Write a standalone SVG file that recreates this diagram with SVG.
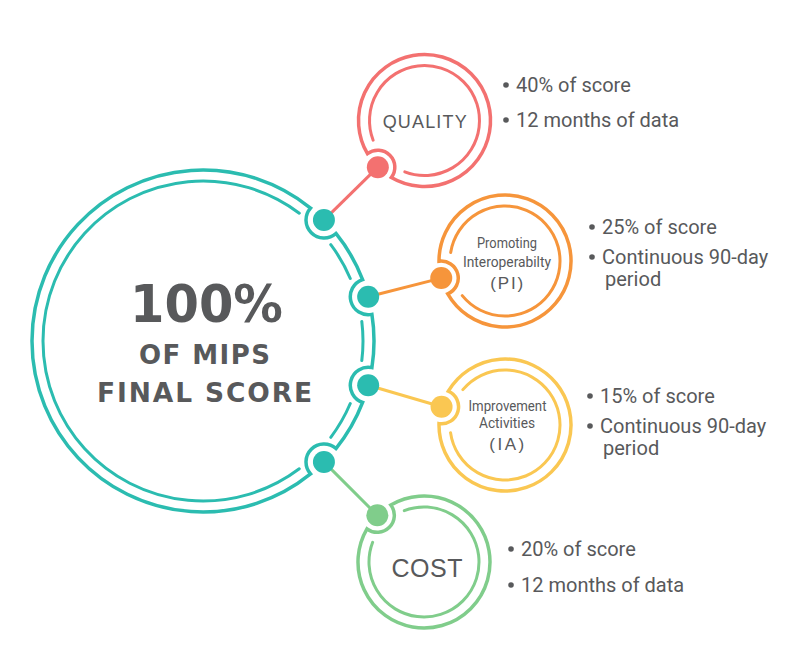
<svg xmlns="http://www.w3.org/2000/svg" width="800" height="672" viewBox="0 0 800 672">
<style>
.ring{fill:none;stroke-width:3.5;stroke-linecap:round}
.inner{fill:none;stroke-width:3;stroke-linecap:round}
.teal{stroke:#2bbcb0}.red{stroke:#f37170}.orange{stroke:#f6953b}.yellow{stroke:#fac752}.green{stroke:#80cd8b}
.conn{stroke-width:3}
.big{font-family:"DejaVu Sans","Liberation Sans",sans-serif;font-weight:bold;fill:#58595b;text-anchor:middle}
.lbl{font-family:"Liberation Sans",Arial,sans-serif;fill:#58595b;text-anchor:middle}
.sm{font-family:Roboto,"Liberation Sans",sans-serif;font-size:15px;fill:#58595b;text-anchor:middle}
.bt{font-family:Roboto,"Liberation Sans",sans-serif;font-size:20px;fill:#58595b}
.bul{fill:#58595b}
</style>
<rect width="800" height="672" fill="#ffffff"/>
<g id="connectors">
<line class="conn red" x1="323.92" y1="220.08" x2="377.83" y2="167.17"/>
<line class="conn orange" x1="368.17" y1="296.74" x2="441.25" y2="278.08"/>
<line class="conn yellow" x1="368.17" y1="385.26" x2="441.56" y2="406.81"/>
<line class="conn green" x1="323.92" y1="461.92" x2="377.33" y2="515.33"/>
</g>
<g id="mips">
<path class="ring teal" d="M 310.54 473.95 A 171 171 0 1 1 310.54 208.05 A 18 18 0 0 0 335.95 233.46 A 171 171 0 0 1 362.61 279.63 A 18 18 0 0 0 371.91 314.34 A 171 171 0 0 1 371.91 367.66 A 18 18 0 0 0 362.61 402.37 A 171 171 0 0 1 335.95 448.54 A 18 18 0 0 0 310.54 473.95 Z"/>
<path class="inner teal" d="M 299.29 468.78 A 160 160 0 1 1 299.29 213.22 M 330.78 244.71 A 160 160 0 0 1 350.28 278.48 M 361.81 321.50 A 160 160 0 0 1 361.81 360.50 M 350.28 403.52 A 160 160 0 0 1 330.78 437.29"/>
<g fill="#2bbcb0">
<circle cx="323.92" cy="220.08" r="11"/>
<circle cx="368.17" cy="296.74" r="11"/>
<circle cx="368.17" cy="385.26" r="11"/>
<circle cx="323.92" cy="461.92" r="11"/>
</g>
<text class="big" x="206.5" y="322" font-size="52" textLength="153" lengthAdjust="spacingAndGlyphs">100%</text>
<text class="big" x="204.5" y="364" font-size="26" textLength="131">OF MIPS</text>
<text class="big" x="204.5" y="402" font-size="26.5" textLength="215">FINAL SCORE</text>
</g>
<g id="quality">
<path class="ring red" d="M 367.46 153.70 A 66 66 0 1 1 391.30 177.54 A 17 17 0 0 0 367.46 153.70 Z"/>
<path class="inner red" d="M 373.15 140.21 A 55 55 0 1 1 404.79 171.85"/>
<circle cx="377.83" cy="167.17" r="11" fill="#f37170"/>
<text class="lbl" x="424.7" y="128" font-size="18" textLength="84">QUALITY</text>
<circle class="bul" cx="506" cy="85" r="2.8"/>
<text class="bt" x="516" y="92">40% of score</text>
<circle class="bul" cx="506" cy="120" r="2.8"/>
<text class="bt" x="516" y="127">12 months of data</text>
</g>
<g id="pi">
<path class="ring orange" d="M 439.00 261.23 A 66 66 0 1 1 447.73 293.80 A 17 17 0 0 0 439.00 261.23 Z"/>
<path class="inner orange" d="M 450.68 252.40 A 55 55 0 1 1 462.26 295.61"/>
<circle cx="441.25" cy="278.08" r="11" fill="#f6953b"/>
<text class="sm" x="507" y="248" textLength="60" lengthAdjust="spacingAndGlyphs">Promoting</text>
<text class="sm" x="507" y="267" textLength="88" lengthAdjust="spacingAndGlyphs">Interoperabilty</text>
<text class="lbl" x="506.7" y="289" font-size="17" textLength="33">(PI)</text>
<circle class="bul" cx="592" cy="227" r="2.8"/>
<text class="bt" x="602" y="234">25% of score</text>
<circle class="bul" cx="592" cy="257" r="2.8"/>
<text class="bt" x="602" y="264">Continuous 90-day</text>
<text class="bt" x="605" y="286">period</text>
</g>
<g id="ia">
<path class="ring yellow" d="M 448.31 391.21 A 66 66 0 1 1 439.01 423.62 A 17 17 0 0 0 448.31 391.21 Z"/>
<path class="inner yellow" d="M 462.87 389.65 A 55 55 0 1 1 450.54 432.65"/>
<circle cx="441.56" cy="406.81" r="11" fill="#fac752"/>
<text class="sm" x="507.5" y="411" textLength="78" lengthAdjust="spacingAndGlyphs">Improvement</text>
<text class="sm" x="507" y="428" textLength="56" lengthAdjust="spacingAndGlyphs">Activities</text>
<text class="lbl" x="506.7" y="450" font-size="17" textLength="35">(IA)</text>
<circle class="bul" cx="590" cy="396" r="2.8"/>
<text class="bt" x="600" y="403">15% of score</text>
<circle class="bul" cx="590" cy="426" r="2.8"/>
<text class="bt" x="600" y="433">Continuous 90-day</text>
<text class="bt" x="603" y="455">period</text>
</g>
<g id="cost">
<path class="ring green" d="M 390.80 504.96 A 66 66 0 1 1 366.96 528.80 A 17 17 0 0 0 390.80 504.96 Z"/>
<path class="inner green" d="M 404.29 510.65 A 55 55 0 1 1 372.65 542.29"/>
<circle cx="377.33" cy="515.33" r="11" fill="#80cd8b"/>
<text class="lbl" x="427" y="577" font-size="25" textLength="71">COST</text>
<circle class="bul" cx="511" cy="549" r="2.8"/>
<text class="bt" x="521" y="556">20% of score</text>
<circle class="bul" cx="511" cy="585" r="2.8"/>
<text class="bt" x="521" y="592">12 months of data</text>
</g>
</svg>
